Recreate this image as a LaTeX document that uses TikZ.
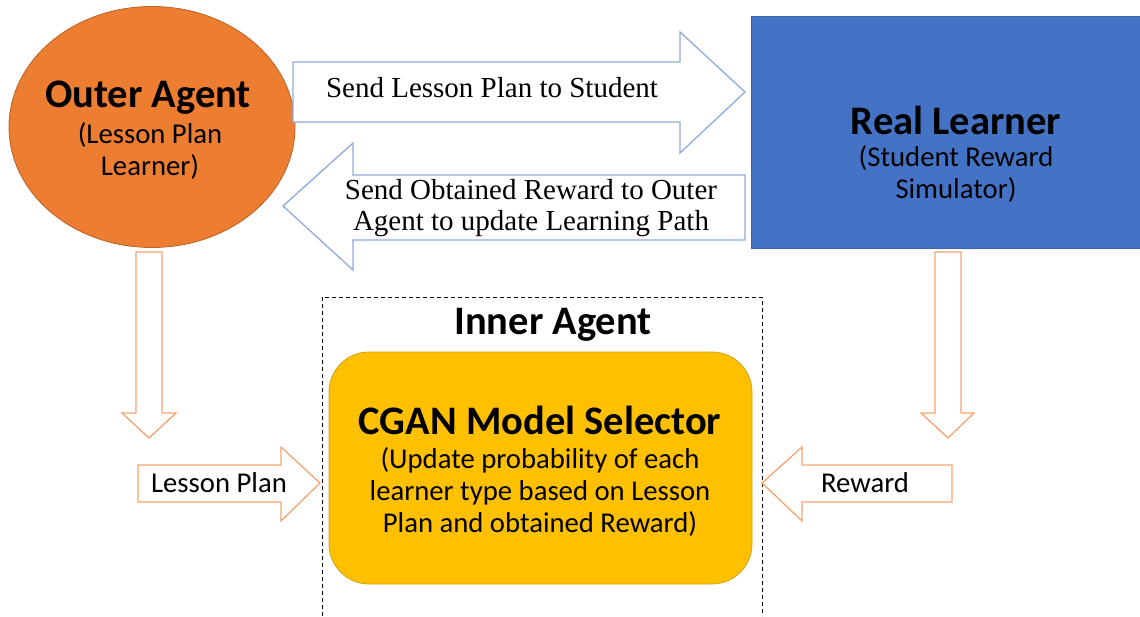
\documentclass[tikz,border=0pt]{standalone}
\usepackage{fontspec}
\setmainfont{Carlito}
\newfontfamily\serifface{Liberation Serif}
\usetikzlibrary{shapes.geometric}

\definecolor{agentorange}{HTML}{ED7D31}
\definecolor{agentorangeline}{HTML}{B8622A}
\definecolor{learnerblue}{HTML}{4472C4}
\definecolor{learnerblueline}{HTML}{3A63AE}
\definecolor{selectoryellow}{HTML}{FFC000}
\definecolor{selectorline}{HTML}{D4A017}
\definecolor{flowblue}{HTML}{8FAADC}
\definecolor{floworange}{HTML}{F4A46E}

\newcommand{\headfont}{\fontsize{40.5}{42}\bfseries\selectfont}
\newcommand{\bodyfont}{\fontsize{28.7}{32}\selectfont}
\newcommand{\flowfont}{\serifface\fontsize{29}{31}\selectfont}

\tikzset{
  title/.style={font=\headfont, inner sep=0pt, align=center},
  body/.style={font=\bodyfont, inner sep=0pt, align=center},
  flowtext/.style={font=\flowfont, inner sep=0pt, align=center},
  bluearrow/.style={draw=flowblue, line width=1.3pt, fill=white, line join=miter},
  orangearrow/.style={draw=floworange, line width=1.3pt, fill=white, line join=miter},
}

\begin{document}
\begin{tikzpicture}[x=1pt, y=-1pt]
\useasboundingbox (0,0) rectangle (1140,616);

% main blocks
\node[ellipse, draw=agentorangeline, fill=agentorange, line width=0.8pt,
      minimum width=286pt, minimum height=241pt, inner sep=0pt] (outer) at (152,127) {};
\node[draw=learnerblueline, fill=learnerblue, line width=0.8pt, inner sep=0pt,
      minimum width=390pt, minimum height=232pt] (real) at (946,132) {};

% inner agent frame, open at the bottom edge of the page
\coordinate (frameBL) at (322,616);
\coordinate (frameTL) at (322,297);
\coordinate (frameTR) at (762,297);
\coordinate (frameBR) at (762,616);
\draw[black, line width=0.9pt, dash pattern=on 4pt off 3pt] (frameBL) -- (frameTL) -- (frameTR) -- (frameBR);

\node[draw=selectorline, fill=selectoryellow, line width=0.8pt, rounded corners=40pt,
      minimum width=423pt, minimum height=232pt, inner sep=0pt] (cgan) at (540.5,468) {};

% block arrows between the agents
\draw[bluearrow] (293,62) -- (680,62) -- (680,32) -- (745,92) -- (680,153) -- (680,122) -- (293,122) -- cycle;
\draw[bluearrow] (745,175) -- (353,175) -- (353,143) -- (283,206) -- (353,270) -- (353,240) -- (745,240) -- cycle;

% block arrows feeding the inner agent
\draw[orangearrow] (136,252) -- (162,252) -- (162,413) -- (176,413) -- (149,438) -- (122,413) -- (136,413) -- cycle;
\draw[orangearrow] (935,252) -- (961,252) -- (961,413) -- (974,413) -- (948,438) -- (921,413) -- (935,413) -- cycle;
\draw[orangearrow] (138,465) -- (281,465) -- (281,447) -- (320,483) -- (281,521) -- (281,502) -- (138,502) -- cycle;
\draw[orangearrow] (952,465) -- (802,465) -- (802,447) -- (762,483) -- (802,521) -- (802,502) -- (952,502) -- cycle;

% labels
\node[title] (outerT) at (148,98) {Outer Agent};
\node[body] (outerS) at (150,151) {(Lesson Plan\\Learner)};
\node[title] (realT) at (956,120) {Real Learner};
\node[body] (realS) at (956,174) {(Student Reward\\Simulator)};
\node[title] (innerT) at (553,325) {Inner Agent};
\node[title] (cganT) at (540,420) {CGAN Model Selector};
\node[body] (cganS) at (540,492) {(Update probability of each\\learner type based on Lesson\\Plan and obtained Reward)};
\node[flowtext] (sendPlan) at (492,88) {Send Lesson Plan to Student};
\node[flowtext] (sendReward) at (531,208) {Send Obtained Reward to Outer\\Agent to update Learning Path};
\node[body] (planLbl) at (219,483) {Lesson Plan};
\node[body] (rewardLbl) at (865,483) {Reward};
\end{tikzpicture}
\end{document}
